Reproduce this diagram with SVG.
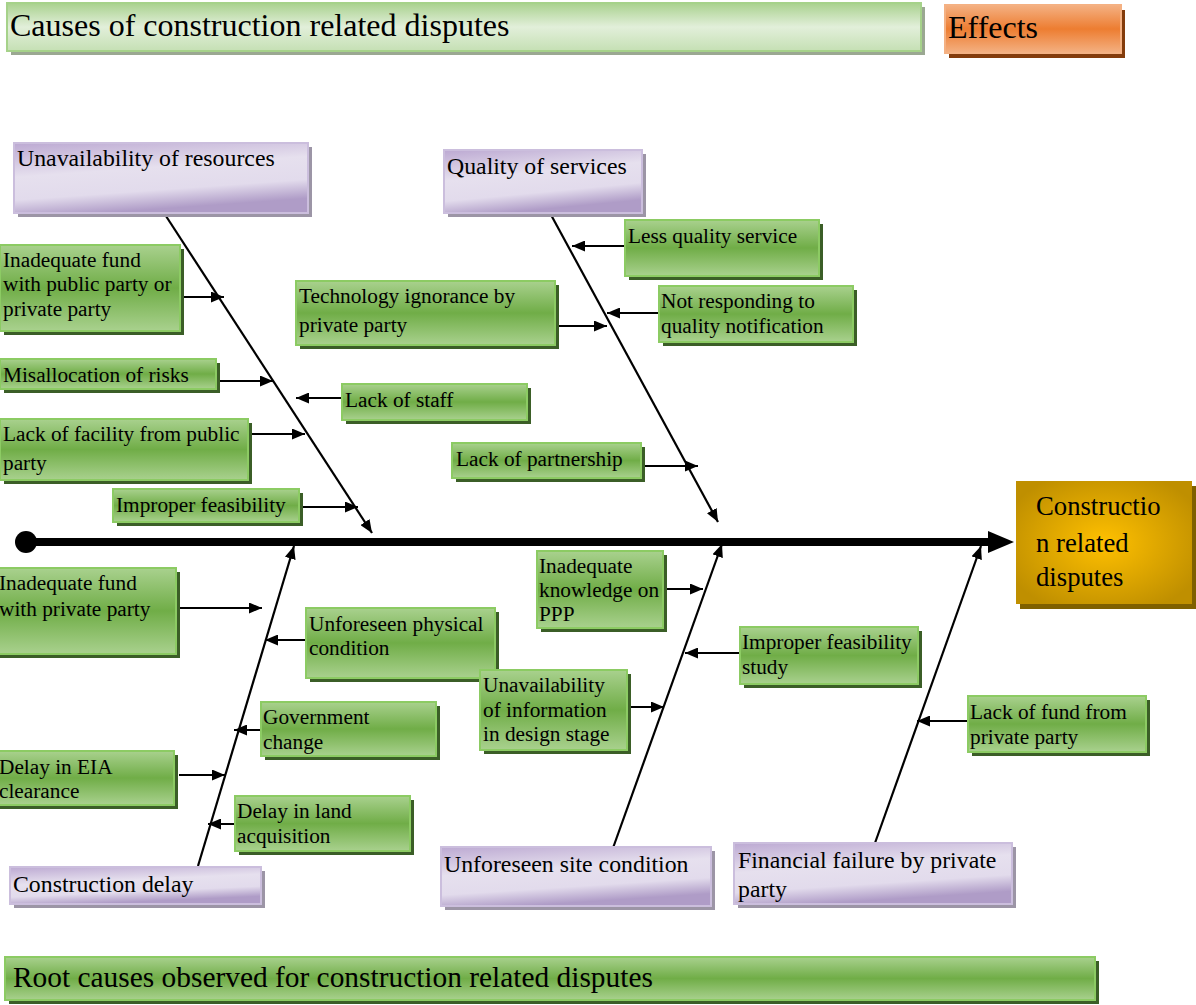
<svg xmlns="http://www.w3.org/2000/svg" width="1196" height="1005" viewBox="0 0 1196 1005">
<defs>
<linearGradient id="gG" x1="0" y1="0" x2="0" y2="1">
<stop offset="0" stop-color="#A9D18E"/><stop offset="0.5" stop-color="#70AD47"/><stop offset="1" stop-color="#A9D18E"/>
</linearGradient>
<linearGradient id="gT" x1="0" y1="0" x2="0" y2="1">
<stop offset="0" stop-color="#A9D18E"/><stop offset="0.5" stop-color="#E2EFDA"/><stop offset="1" stop-color="#C5E0B4"/>
</linearGradient>
<linearGradient id="gP" x1="0" y1="0" x2="0.3" y2="1">
<stop offset="0" stop-color="#BCA9D2"/><stop offset="0.45" stop-color="#E6E0EE"/><stop offset="0.75" stop-color="#E2DBEC"/><stop offset="1" stop-color="#AF9CC7"/>
</linearGradient>
<linearGradient id="gO" x1="0" y1="0" x2="0" y2="1">
<stop offset="0" stop-color="#F4B183"/><stop offset="0.5" stop-color="#ED7D31"/><stop offset="1" stop-color="#F4B183"/>
</linearGradient>
<radialGradient id="gY" cx="0.5" cy="0.5" r="0.6">
<stop offset="0" stop-color="#FFC000"/><stop offset="1" stop-color="#BF8F00"/>
</radialGradient>
<marker id="ah" markerUnits="userSpaceOnUse" markerWidth="13" markerHeight="11" refX="13" refY="5.5" orient="auto" viewBox="0 0 13 11">
<path d="M0,0 L13,5.5 L0,11 z" fill="#000"/>
</marker>
<marker id="big" markerUnits="userSpaceOnUse" markerWidth="26" markerHeight="22" refX="2" refY="11" orient="auto" viewBox="0 0 26 22">
<path d="M0,0 L26,11 L0,22 z" fill="#000"/>
</marker>
</defs>
<style>
text{font-family:"Liberation Serif","Times New Roman",serif;fill:#000}
.g{fill:url(#gG);stroke:#8CCB63;stroke-width:2}
.gs{fill:#3B5E27}
.p{fill:url(#gP);stroke:#CBBEDD;stroke-width:2}
.ps{fill:#9C95A6}
.t18{font-size:21.3px}
.t20{font-size:23.8px}
.bone{stroke:#000;stroke-width:2.2;fill:none;marker-end:url(#ah)}
.sub{stroke:#000;stroke-width:2;fill:none;marker-end:url(#ah)}
</style>
<rect width="1196" height="1005" fill="#fff"/>

<g id="title">
<rect x="11" y="7" width="914" height="48" fill="#9BA892"/>
<rect x="7" y="3" width="914" height="48" fill="url(#gT)" stroke="#A6D28A" stroke-width="2"/>
<text x="10" y="36" font-size="32">Causes of construction related disputes</text>
</g>
<g id="effects">
<rect x="949" y="10" width="176" height="48" fill="#843C0C"/>
<rect x="945" y="5" width="176" height="48" fill="url(#gO)" stroke="#F4B183" stroke-width="2"/>
<text x="948" y="38" font-size="32">Effects</text>
</g>
<g id="root">
<rect x="9" y="961" width="1090" height="43" fill="#3B5E27"/>
<rect x="5" y="957" width="1090" height="43" fill="url(#gG)" stroke="#8CCB63" stroke-width="2"/>
<text x="13" y="987" font-size="29.4">Root causes observed for construction related disputes</text>
</g>

<g id="connectors">
<circle cx="26" cy="542" r="11" fill="#000"/>
<line x1="26" y1="542" x2="990" y2="542" stroke="#000" stroke-width="8" marker-end="url(#big)"/>
<line class="bone" x1="164" y1="213" x2="372" y2="533"/>
<line class="bone" x1="550" y1="213" x2="718" y2="522"/>
<line class="bone" x1="198" y1="866" x2="294" y2="546"/>
<line class="bone" x1="613" y1="848" x2="722" y2="544"/>
<line class="bone" x1="875" y1="843" x2="981" y2="546"/>
<line class="sub" x1="180" y1="297" x2="224" y2="297"/>
<line class="sub" x1="218" y1="381" x2="273" y2="381"/>
<line class="sub" x1="250" y1="434" x2="305" y2="434"/>
<line class="sub" x1="301" y1="507" x2="358" y2="507"/>
<line class="sub" x1="341" y1="398" x2="296" y2="398"/>
<line class="sub" x1="557" y1="326" x2="607" y2="326"/>
<line class="sub" x1="625" y1="246" x2="572" y2="246"/>
<line class="sub" x1="659" y1="313" x2="607" y2="313"/>
<line class="sub" x1="642" y1="466" x2="698" y2="466"/>
<line class="sub" x1="176" y1="608" x2="262" y2="608"/>
<line class="sub" x1="306" y1="640" x2="265" y2="640"/>
<line class="sub" x1="263" y1="730" x2="234" y2="730"/>
<line class="sub" x1="179" y1="775" x2="225" y2="775"/>
<line class="sub" x1="238" y1="824" x2="208" y2="824"/>
<line class="sub" x1="663" y1="589" x2="703" y2="589"/>
<line class="sub" x1="740" y1="653" x2="685" y2="653"/>
<line class="sub" x1="627" y1="707" x2="664" y2="707"/>
<line class="sub" x1="968" y1="721" x2="917" y2="721"/>
</g>

<g id="effect-node">
<rect x="1020" y="486" width="176" height="123" fill="#7F6000"/>
<rect x="1016" y="481" width="176" height="123" fill="url(#gY)"/>
<text x="1036" y="515" font-size="26.7">Constructio</text>
<text x="1036" y="552" font-size="26.7">n related</text>
<text x="1036" y="586" font-size="26.7">disputes</text>
</g>

<g id="cat-resources">
<rect class="ps" x="18" y="147" width="294" height="70"/>
<rect class="p" x="14" y="143" width="294" height="70"/>
<text class="t20" x="17" y="166">Unavailability of resources</text>
</g>
<g id="cat-quality">
<rect class="ps" x="448" y="154" width="198" height="63"/>
<rect class="p" x="444" y="150" width="198" height="63"/>
<text class="t20" x="447" y="174">Quality of services</text>
</g>
<g id="cat-delay">
<rect class="ps" x="14" y="871" width="251" height="37"/>
<rect class="p" x="10" y="867" width="251" height="37"/>
<text class="t20" x="13" y="892">Construction delay</text>
</g>
<g id="cat-site">
<rect class="ps" x="445" y="851" width="270" height="59"/>
<rect class="p" x="441" y="847" width="270" height="59"/>
<text class="t20" x="444" y="872">Unforeseen site condition</text>
</g>
<g id="cat-financial">
<rect class="ps" x="738" y="847" width="278" height="61"/>
<rect class="p" x="734" y="843" width="278" height="61"/>
<text class="t20" x="738" y="868">Financial failure by private</text>
<text class="t20" x="738" y="897">party</text>
</g>

<g id="n1">
<rect class="gs" x="4" y="249" width="180" height="86"/>
<rect class="g" x="0" y="245" width="180" height="86"/>
<text class="t18" x="3" y="267">Inadequate fund</text>
<text class="t18" x="3" y="291">with public party or</text>
<text class="t18" x="3" y="316">private party</text>
</g>
<g id="n2">
<rect class="gs" x="4" y="363" width="216" height="30"/>
<rect class="g" x="0" y="359" width="216" height="30"/>
<text class="t18" x="3" y="382">Misallocation of risks</text>
</g>
<g id="n3">
<rect class="gs" x="4" y="423" width="248" height="61"/>
<rect class="g" x="0" y="419" width="248" height="61"/>
<text class="t18" x="3" y="441">Lack of facility from public</text>
<text class="t18" x="3" y="470">party</text>
</g>
<g id="n4">
<rect class="gs" x="117" y="493" width="186" height="33"/>
<rect class="g" x="113" y="489" width="186" height="33"/>
<text class="t18" x="116" y="512">Improper feasibility</text>
</g>
<g id="n5">
<rect class="gs" x="346" y="388" width="185" height="36"/>
<rect class="g" x="342" y="384" width="185" height="36"/>
<text class="t18" x="345" y="407">Lack of staff</text>
</g>
<g id="n6">
<rect class="gs" x="300" y="285" width="259" height="64"/>
<rect class="g" x="296" y="281" width="259" height="64"/>
<text class="t18" x="299" y="303">Technology ignorance by</text>
<text class="t18" x="299" y="332">private party</text>
</g>
<g id="n7">
<rect class="gs" x="629" y="224" width="194" height="56"/>
<rect class="g" x="625" y="220" width="194" height="56"/>
<text class="t18" x="628" y="243">Less quality service</text>
</g>
<g id="n8">
<rect class="gs" x="663" y="290" width="194" height="56"/>
<rect class="g" x="659" y="286" width="194" height="56"/>
<text class="t18" x="661" y="308">Not responding to</text>
<text class="t18" x="661" y="333">quality notification</text>
</g>
<g id="n9">
<rect class="gs" x="456" y="447" width="189" height="35"/>
<rect class="g" x="452" y="443" width="189" height="35"/>
<text class="t18" x="456" y="466">Lack of partnership</text>
</g>
<g id="n10">
<rect class="gs" x="-1" y="572" width="181" height="86"/>
<rect class="g" x="-5" y="568" width="181" height="86"/>
<text class="t18" x="-1" y="590">Inadequate fund</text>
<text class="t18" x="-1" y="616">with private party</text>
</g>
<g id="n11">
<rect class="gs" x="310" y="612" width="189" height="70"/>
<rect class="g" x="306" y="608" width="189" height="70"/>
<text class="t18" x="309" y="631">Unforeseen physical</text>
<text class="t18" x="309" y="655">condition</text>
</g>
<g id="n12">
<rect class="gs" x="265" y="706" width="175" height="54"/>
<rect class="g" x="261" y="702" width="175" height="54"/>
<text class="t18" x="263" y="724">Government</text>
<text class="t18" x="263" y="749">change</text>
</g>
<g id="n13">
<rect class="gs" x="-1" y="755" width="179" height="54"/>
<rect class="g" x="-5" y="751" width="179" height="54"/>
<text class="t18" x="-1" y="774">Delay in EIA</text>
<text class="t18" x="-1" y="798">clearance</text>
</g>
<g id="n14">
<rect class="gs" x="239" y="800" width="175" height="55"/>
<rect class="g" x="235" y="796" width="175" height="55"/>
<text class="t18" x="237" y="818">Delay in land</text>
<text class="t18" x="237" y="843">acquisition</text>
</g>
<g id="n15">
<rect class="gs" x="541" y="555" width="126" height="77"/>
<rect class="g" x="537" y="551" width="126" height="77"/>
<text class="t18" x="539" y="573">Inadequate</text>
<text class="t18" x="539" y="597">knowledge on</text>
<text class="t18" x="539" y="621">PPP</text>
</g>
<g id="n16">
<rect class="gs" x="744" y="631" width="178" height="57"/>
<rect class="g" x="740" y="627" width="178" height="57"/>
<text class="t18" x="742" y="649">Improper feasibility</text>
<text class="t18" x="742" y="674">study</text>
</g>
<g id="n17">
<rect class="gs" x="484" y="674" width="147" height="80"/>
<rect class="g" x="480" y="670" width="147" height="80"/>
<text class="t18" x="483" y="692">Unavailability</text>
<text class="t18" x="483" y="717">of information</text>
<text class="t18" x="483" y="741">in design stage</text>
</g>
<g id="n18">
<rect class="gs" x="972" y="700" width="178" height="56"/>
<rect class="g" x="968" y="696" width="178" height="56"/>
<text class="t18" x="970" y="719">Lack of fund from</text>
<text class="t18" x="970" y="744">private party</text>
</g>
</svg>
